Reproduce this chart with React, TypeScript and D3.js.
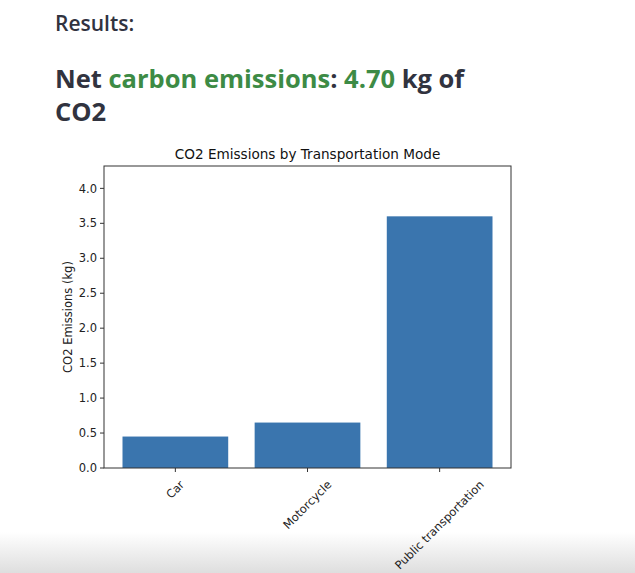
import React from "react";
import * as d3 from "d3";

const categories = ["Car", "Motorcycle", "Public transportation"];
const values = [0.45, 0.65, 3.6];
const yTicks = [0, 0.5, 1, 1.5, 2, 2.5, 3, 3.5, 4];
const totalValue = 4.7;

const W = 635;
const H = 573;
const plot = { left: 104, right: 511, top: 166, bottom: 468 };
const CHART_FONT = "DejaVu Sans, sans-serif";
const HEAD_FONT = "'Open Sans', 'Noto Sans', sans-serif";

function measure(text: string, font: string): number {
  if (typeof document === "undefined") return text.length * 7;
  const c = document.createElement("canvas");
  const ctx = c.getContext("2d");
  if (!ctx) return text.length * 7;
  ctx.font = font;
  return ctx.measureText(text).width;
}

export default function App() {
  const x = d3
    .scaleBand<string>()
    .domain(categories)
    .range([plot.left, plot.right])
    .paddingInner(0.2)
    .paddingOuter(0.14);
  const y = d3
    .scaleLinear()
    .domain([0, d3.max(values)! * 1.2])
    .range([plot.bottom, plot.top]);

  const tickFs = 11.5;
  const green = "#3d8b45";
  const dark = "#31333f";

  return (
    <svg
      width={W}
      height={H}
      style={{ position: "absolute", left: 0, top: 0, display: "block" }}
    >
      <defs>
        <linearGradient id="fade" x1="0" y1="0" x2="0" y2="1">
          <stop offset="0" stopColor="#ffffff" />
          <stop offset="1" stopColor="#dedede" />
        </linearGradient>
      </defs>
      <rect x={0} y={0} width={W} height={H} fill="#fff" />
      <rect x={0} y={532} width={W} height={H - 532} fill="url(#fade)" />

      <text x={55} y={31} fontFamily={HEAD_FONT} fontWeight={600} fontSize={21} fill={dark}>
        Results:
      </text>
      <text x={55} y={88} fontFamily={HEAD_FONT} fontWeight={700} fontSize={25.5} fill={dark}>
        <tspan>Net </tspan>
        <tspan fill={green}>carbon emissions</tspan>
        <tspan>: </tspan>
        <tspan fill={green}>{totalValue.toFixed(2)}</tspan>
        <tspan> kg of</tspan>
      </text>
      <text x={55} y={121} fontFamily={HEAD_FONT} fontWeight={700} fontSize={25.5} fill={dark}>
        CO2
      </text>

      <text
        x={(plot.left + plot.right) / 2}
        y={plot.top - 7}
        textAnchor="middle"
        fontFamily={CHART_FONT}
        fontSize={13.6}
        fill="#111"
      >
        CO2 Emissions by Transportation Mode
      </text>

      {values.map((v, i) => (
        <rect
          key={categories[i]}
          x={x(categories[i])}
          y={y(v)}
          width={x.bandwidth()}
          height={y(0) - y(v)}
          fill="#3a75ae"
        />
      ))}

      <rect
        x={plot.left}
        y={plot.top}
        width={plot.right - plot.left}
        height={plot.bottom - plot.top}
        fill="none"
        stroke="#333"
        strokeWidth={1}
      />

      {yTicks.map((t) => (
        <g key={t}>
          <line x1={plot.left - 4} x2={plot.left} y1={y(t)} y2={y(t)} stroke="#333" />
          <text
            x={plot.left - 7}
            y={y(t)}
            dy="0.36em"
            textAnchor="end"
            fontFamily={CHART_FONT}
            fontSize={tickFs}
            fill="#222"
          >
            {t.toFixed(1)}
          </text>
        </g>
      ))}

      <text
        transform={`translate(72,${(plot.top + plot.bottom) / 2}) rotate(-90)`}
        textAnchor="middle"
        fontFamily={CHART_FONT}
        fontSize={tickFs}
        fill="#222"
      >
        CO2 Emissions (kg)
      </text>

      {categories.map((c) => {
        const cx = x(c)! + x.bandwidth() / 2;
        const w = measure(c, `${tickFs}px DejaVu Sans`);
        const h = tickFs * 1.16;
        const half = ((w + h) * Math.SQRT1_2) / 2;
        const cy = plot.bottom + 10 + half;
        return (
          <g key={c}>
            <line x1={cx} x2={cx} y1={plot.bottom} y2={plot.bottom + 4} stroke="#333" />
            <text
              transform={`translate(${cx},${cy}) rotate(-45)`}
              textAnchor="middle"
              dy="0.32em"
              fontFamily={CHART_FONT}
              fontSize={tickFs}
              fill="#222"
            >
              {c}
            </text>
          </g>
        );
      })}
    </svg>
  );
}
